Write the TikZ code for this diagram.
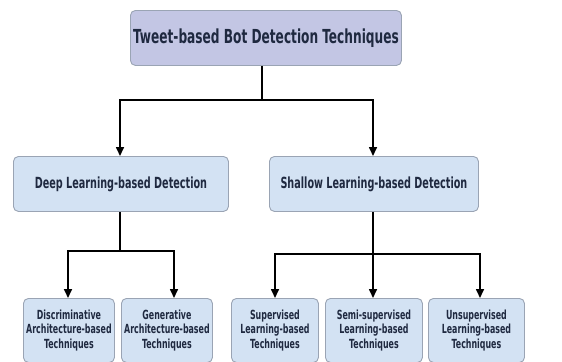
\documentclass[tikz,border=0pt]{standalone}
\usepackage{fontspec}
\setmainfont{DejaVu Sans Condensed}[FakeStretch=0.7]
\usetikzlibrary{arrows.meta}
\definecolor{topfill}{HTML}{C3C6E4}
\definecolor{boxfill}{HTML}{D3E2F3}
\definecolor{boxline}{HTML}{9AA4B4}
\definecolor{txt}{HTML}{1F2940}
\tikzset{
  box/.style={draw=boxline, line width=0.9bp, rounded corners=5bp, fill=boxfill, text=txt, font=\bfseries, inner sep=0pt, anchor=north west},
  topbox/.style={box, fill=topfill},
  conn/.style={line width=1.6bp, draw=black},
  arr/.style={conn, -{Triangle[length=9bp,width=8bp]}}
}
\begin{document}
\begin{tikzpicture}[x=1bp,y=-1bp]
\useasboundingbox[fill=white] (0,0) rectangle (562,361);
\node[topbox, minimum width=271bp, minimum height=55bp, font=\bfseries\fontsize{19.4}{22}\selectfont] (top) at (130,10) {Tweet-based Bot Detection Techniques};
\node[box, minimum width=215bp, minimum height=55bp, font=\bfseries\fontsize{15.4}{18}\selectfont] (deep) at (13,156) {Deep Learning-based Detection};
\node[box, minimum width=209bp, minimum height=55bp, font=\bfseries\fontsize{15.4}{18}\selectfont] (shallow) at (269,156) {Shallow Learning-based Detection};
\tikzset{small/.style={box, minimum height=64bp, align=center, font=\bfseries\fontsize{12.6}{14.5}\selectfont}}
\node[small, minimum width=91bp] (disc) at (23,298) {Discriminative\\Architecture-based\\Techniques};
\node[small, minimum width=91bp] (gen) at (121,298) {Generative\\Architecture-based\\Techniques};
\node[small, minimum width=87bp] (sup) at (231,298) {Supervised\\Learning-based\\Techniques};
\node[small, minimum width=97bp] (semi) at (325,298) {Semi-supervised\\Learning-based\\Techniques};
\node[small, minimum width=96bp] (unsup) at (428,298) {Unsupervised\\Learning-based\\Techniques};
\coordinate (j1) at (262,100);
\coordinate (j2) at (120,251);
\coordinate (j3) at (373,254);
\draw[conn] (top.south -| j1) -- (j1);
\draw[arr] (j1) -| (deep.north -| 120,0);
\draw[arr] (j1) -| (shallow.north -| 373,0);
\draw[conn] (deep.south -| j2) -- (j2);
\draw[arr] (j2) -| (disc.north -| 68,0);
\draw[arr] (j2) -| (gen.north -| 174,0);
\draw[conn] (shallow.south -| j3) -- (j3);
\draw[arr] (j3) -| (sup.north -| 275,0);
\draw[arr] (j3) -- (semi.north -| j3);
\draw[arr] (j3) -| (unsup.north -| 480,0);
\end{tikzpicture}
\end{document}
